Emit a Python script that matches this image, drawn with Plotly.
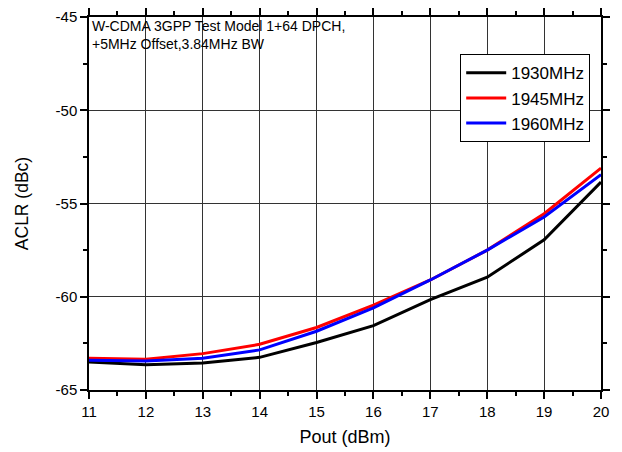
import plotly.graph_objects as go

pout = [11, 12, 13, 14, 15, 16, 17, 18, 19, 20]
aclr_1930 = [-63.5, -63.65, -63.55, -63.25, -62.45, -61.55, -60.15, -58.95, -56.95, -53.85]
aclr_1945 = [-63.3, -63.35, -63.05, -62.55, -61.65, -60.45, -59.1, -57.5, -55.55, -53.1]
aclr_1960 = [-63.4, -63.45, -63.3, -62.85, -61.85, -60.6, -59.1, -57.5, -55.72, -53.45]
names = ["1930MHz", "1945MHz", "1960MHz"]
colors = ["#000000", "#ff0000", "#0000ff"]
series = [aclr_1930, aclr_1945, aclr_1960]
y_ticks = [-65, -60, -55, -50, -45]
y_ticktext = ["-65", "-60", "-55", "-50", "-45"]

fig = go.Figure()
for n, c, s in zip(names, colors, series):
    fig.add_trace(go.Scatter(x=pout, y=s, mode="lines", name=n,
                             line=dict(color=c, width=3)))

font = "Liberation Sans, Arial, sans-serif"
axis_common = dict(
    showline=True, linecolor="black", linewidth=1.5, mirror="ticks",
    ticks="outside", ticklen=7, tickwidth=1.5, tickcolor="black",
    showgrid=True, gridcolor="#333333", gridwidth=1, automargin=False,
    zeroline=False, tickfont=dict(family=font, size=15, color="black"),
)
fig.update_xaxes(range=[11, 20], tickmode="linear", dtick=1, tick0=11,
                 minor=dict(tickmode="linear", tick0=11, dtick=0.5, ticks="outside", ticklen=4,
                            tickcolor="black", tickwidth=1.5, showgrid=False),
                 title=dict(text="Pout (dBm)", font=dict(family=font, size=18, color="black"), standoff=12),
                 **axis_common)
fig.update_yaxes(range=[-65, -45], tickmode="array", tickvals=y_ticks, ticktext=y_ticktext,
                 minor=dict(tickmode="linear", tick0=-65, dtick=2.5, ticks="outside", ticklen=4,
                            tickcolor="black", tickwidth=1.5, showgrid=False),
                 title=dict(text="ACLR (dBc)", font=dict(family=font, size=17.5, color="black"), standoff=22),
                 **axis_common)

fig.add_annotation(x=0.0, y=1.0, xref="paper", yref="paper", xanchor="left", yanchor="top",
                   text="W-CDMA 3GPP Test Model 1+64 DPCH,<br>+5MHz Offset,3.84MHz BW",
                   showarrow=False, align="left", xshift=1, yshift=1,
                   font=dict(family=font, size=14, color="black"))

fig.update_layout(
    width=622, height=452,
    margin=dict(l=89, r=21, t=17, b=62, autoexpand=False),
    plot_bgcolor="white", paper_bgcolor="white",
    font=dict(family=font, color="black"),
    legend=dict(x=0.725, y=0.9, xanchor="left", yanchor="top",
                bordercolor="black", borderwidth=1, bgcolor="white",
                font=dict(family=font, size=17, color="black"),
                tracegroupgap=0, itemwidth=40),
    showlegend=True,
)

fig.write_html("out.html")
